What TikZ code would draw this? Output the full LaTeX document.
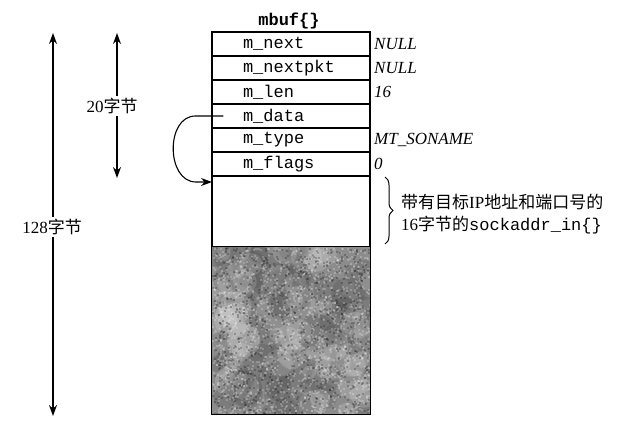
\documentclass[tikz,border=0pt]{standalone}
\usepackage{fontspec}
\setmainfont{Liberation Serif}
\setmonofont{Liberation Mono}
\newfontfamily\cjk{Noto Sans CJK SC}
\usetikzlibrary{arrows.meta,decorations.pathreplacing}
\begin{document}
\begin{tikzpicture}[x=1pt,y=-1pt,
  fieldrow/.style={draw, line width=1.2pt, minimum width=158pt, minimum height=24pt,
    text width=96pt, inner xsep=31pt, inner ysep=0pt, align=left,
    font=\ttfamily\fontsize{17}{20}\selectfont},
  val/.style={anchor=west, inner sep=0pt, font=\itshape\fontsize{17}{20}\selectfont},
  lbl/.style={inner sep=2pt, font=\fontsize{17}{20}\selectfont},
  dimarrow/.style={line width=1.1pt, -{Stealth[length=11pt,width=8pt]}},
  bracestyle/.style={line width=1pt, decorate, decoration={brace, amplitude=8pt}}]
\useasboundingbox (0,0) rectangle (642,440);
\fill[white] (0,0) rectangle (642,440);

% title
\node[font=\ttfamily\bfseries\fontsize{17}{20}\selectfont] (title) at (289,21) {mbuf\{\}};

% rows
\node[fieldrow] (r1) at (291,44) {m\_next};
\node[fieldrow] (r2) at (291,68) {m\_nextpkt};
\node[fieldrow] (r3) at (291,92) {m\_len};
\node[fieldrow] (r4) at (291,116) {m\_data};
\node[fieldrow] (r5) at (291,140) {m\_type};
\node[fieldrow] (r6) at (291,164) {m\_flags};
\node[fieldrow, minimum height=71pt] (blank) at (291,211.5) {};
\node[minimum width=158pt, minimum height=167pt, inner sep=0pt] (dataarea) at (291,330.5) {};

% mottled shading
\begin{scope}
  \clip (dataarea.north west) rectangle (dataarea.south east);
  \fill[black!45] (dataarea.north west) rectangle (dataarea.south east);
  \pgfmathsetseed{42}
  \foreach \i in {1,...,70}{
    \pgfmathsetmacro\xx{212+158*rnd}
    \pgfmathsetmacro\yy{247+167*rnd}
    \pgfmathsetmacro\rr{6+14*rnd}
    \fill[black!75,opacity=0.2] (\xx,\yy) circle[radius=\rr pt];
  }
  \foreach \i in {1,...,50}{
    \pgfmathsetmacro\xx{212+158*rnd}
    \pgfmathsetmacro\yy{247+167*rnd}
    \pgfmathsetmacro\rr{6+12*rnd}
    \fill[white,opacity=0.15] (\xx,\yy) circle[radius=\rr pt];
  }
  \foreach \i in {1,...,1400}{
    \pgfmathsetmacro\xx{212+158*rnd}
    \pgfmathsetmacro\yy{247+167*rnd}
    \fill[white,opacity=0.22] (\xx,\yy) rectangle ++(2,2);
  }
  \foreach \i in {1,...,900}{
    \pgfmathsetmacro\xx{212+158*rnd}
    \pgfmathsetmacro\yy{247+167*rnd}
    \fill[black,opacity=0.22] (\xx,\yy) rectangle ++(2,2);
  }
\end{scope}
\draw[line width=1.2pt] (dataarea.north west) rectangle (dataarea.south east);

% values
\node[val] (v1) at (374,44) {NULL};
\node[val] (v2) at (374,68) {NULL};
\node[val] (v3) at (374,92) {16};
\node[val] (v5) at (374,140) {MT\_SONAME};
\node[val] (v6) at (374,164) {0};

% dimension arrows
\coordinate (a128top) at (53,33);
\coordinate (a128bot) at (53,416);
\node[lbl] (l128) at (52,227) {128{\cjk 字节}};
\draw[dimarrow] (a128top |- l128.north) -- (a128top);
\draw[dimarrow] (a128bot |- l128.south) -- (a128bot);

\coordinate (a20top) at (117,33);
\coordinate (a20bot) at (117,178);
\node[lbl] (l20) at (112,106) {20{\cjk 字节}};
\draw[dimarrow] (a20top |- l20.north) -- (a20top);
\draw[dimarrow] (a20bot |- l20.south) -- (a20bot);

% m_data pointer
\coordinate (tgt) at (212,182);
\draw[dimarrow] ([xshift=12pt]r4.west) -- ([xshift=-16pt]r4.west)
  .. controls +(-30,0) and +(-30,0) .. ([xshift=-16pt]tgt) -- (tgt);

% brace and description
\coordinate (brtop) at (385,177);
\coordinate (brbot) at (385,244);
\draw[bracestyle] (brtop) -- (brbot);
\node[anchor=west, align=left, inner sep=0pt, font=\fontsize{17}{22}\selectfont] (desc) at (401,214)
  {{\cjk 带有目标}IP{\cjk 地址和端口号的}\\16{\cjk 字节的}\texttt{sockaddr\_in\{\}}};
\end{tikzpicture}
\end{document}
